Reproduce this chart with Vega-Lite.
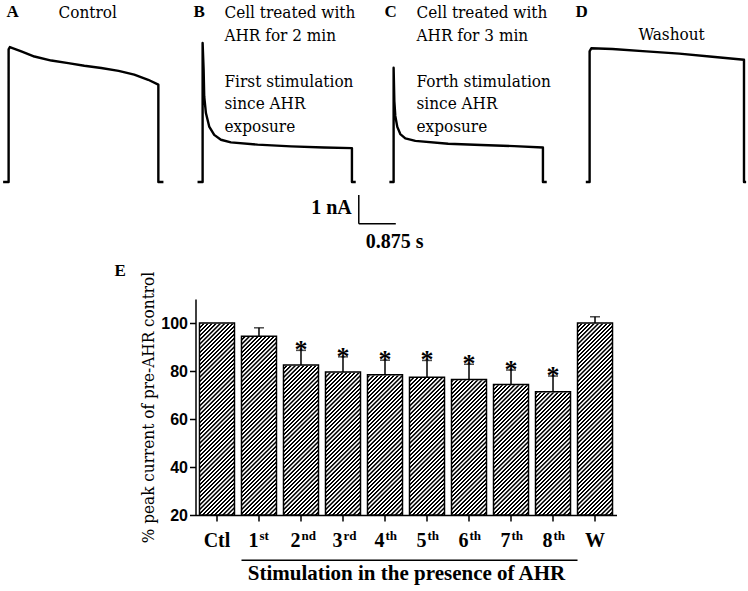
{
  "$schema": "https://vega.github.io/schema/vega-lite/v6.json",
  "background": "white",
  "padding": {"left": 1.5, "top": 2, "right": 5, "bottom": 5},
  "spacing": 10,
  "config": {"view": {"stroke": null}, "font": "Liberation Serif", "axis": {"grid": false}},
  "datasets": {
    "traces": [
      {"panel": "A", "i": 0, "t": -0.13, "I": 0},
      {"panel": "A", "i": 1, "t": 0, "I": 0},
      {"panel": "A", "i": 2, "t": 0, "I": 4.62},
      {"panel": "A", "i": 3, "t": 0.03, "I": 4.70},
      {"panel": "A", "i": 4, "t": 0.14, "I": 4.64},
      {"panel": "A", "i": 5, "t": 0.30, "I": 4.55},
      {"panel": "A", "i": 6, "t": 0.61, "I": 4.37},
      {"panel": "A", "i": 7, "t": 1.01, "I": 4.23},
      {"panel": "A", "i": 8, "t": 1.41, "I": 4.14},
      {"panel": "A", "i": 9, "t": 1.79, "I": 4.05},
      {"panel": "A", "i": 10, "t": 2.19, "I": 3.97},
      {"panel": "A", "i": 11, "t": 2.60, "I": 3.87},
      {"panel": "A", "i": 12, "t": 2.97, "I": 3.74},
      {"panel": "A", "i": 13, "t": 3.30, "I": 3.56},
      {"panel": "A", "i": 14, "t": 3.54, "I": 3.39},
      {"panel": "A", "i": 15, "t": 3.54, "I": 0},
      {"panel": "A", "i": 16, "t": 3.66, "I": 0},
      {"panel": "B", "i": 0, "t": -0.12, "I": 0},
      {"panel": "B", "i": 1, "t": 0, "I": 0},
      {"panel": "B", "i": 2, "t": 0, "I": 4.84},
      {"panel": "B", "i": 3, "t": 0.024, "I": 3.91},
      {"panel": "B", "i": 4, "t": 0.038, "I": 2.98},
      {"panel": "B", "i": 5, "t": 0.078, "I": 2.40},
      {"panel": "B", "i": 6, "t": 0.156, "I": 1.93},
      {"panel": "B", "i": 7, "t": 0.274, "I": 1.64},
      {"panel": "B", "i": 8, "t": 0.433, "I": 1.47},
      {"panel": "B", "i": 9, "t": 0.669, "I": 1.38},
      {"panel": "B", "i": 10, "t": 1.30, "I": 1.30},
      {"panel": "B", "i": 11, "t": 2.09, "I": 1.24},
      {"panel": "B", "i": 12, "t": 2.87, "I": 1.20},
      {"panel": "B", "i": 13, "t": 3.53, "I": 1.18},
      {"panel": "B", "i": 14, "t": 3.53, "I": 0},
      {"panel": "B", "i": 15, "t": 3.62, "I": 0},
      {"panel": "C", "i": 0, "t": -0.10, "I": 0},
      {"panel": "C", "i": 1, "t": 0, "I": 0},
      {"panel": "C", "i": 2, "t": 0, "I": 3.98},
      {"panel": "C", "i": 3, "t": 0.017, "I": 2.82},
      {"panel": "C", "i": 4, "t": 0.04, "I": 2.30},
      {"panel": "C", "i": 5, "t": 0.087, "I": 1.92},
      {"panel": "C", "i": 6, "t": 0.158, "I": 1.67},
      {"panel": "C", "i": 7, "t": 0.277, "I": 1.52},
      {"panel": "C", "i": 8, "t": 0.513, "I": 1.43},
      {"panel": "C", "i": 9, "t": 1.29, "I": 1.33},
      {"panel": "C", "i": 10, "t": 2.07, "I": 1.29},
      {"panel": "C", "i": 11, "t": 2.85, "I": 1.25},
      {"panel": "C", "i": 12, "t": 3.53, "I": 1.20},
      {"panel": "C", "i": 13, "t": 3.53, "I": 0},
      {"panel": "C", "i": 14, "t": 3.62, "I": 0},
      {"panel": "D", "i": 0, "t": -0.09, "I": 0},
      {"panel": "D", "i": 1, "t": 0, "I": 0},
      {"panel": "D", "i": 2, "t": 0, "I": 4.55},
      {"panel": "D", "i": 3, "t": 0.04, "I": 4.66},
      {"panel": "D", "i": 4, "t": 0.54, "I": 4.63},
      {"panel": "D", "i": 5, "t": 1.34, "I": 4.55},
      {"panel": "D", "i": 6, "t": 2.12, "I": 4.47},
      {"panel": "D", "i": 7, "t": 2.90, "I": 4.36},
      {"panel": "D", "i": 8, "t": 3.65, "I": 4.26},
      {"panel": "D", "i": 9, "t": 3.65, "I": 0},
      {"panel": "D", "i": 10, "t": 3.70, "I": 0}
    ],
    "bars": [
      {"cat": "Ctl", "num": "Ctl", "sup": "", "mean": 100, "err": null, "star": false},
      {"cat": "1st", "num": "1", "sup": "st", "mean": 94.5, "err": 98.0, "star": false},
      {"cat": "2nd", "num": "2", "sup": "nd", "mean": 82.5, "err": 88.6, "star": true},
      {"cat": "3rd", "num": "3", "sup": "rd", "mean": 79.6, "err": 85.9, "star": true},
      {"cat": "4th", "num": "4", "sup": "th", "mean": 78.4, "err": 84.5, "star": true},
      {"cat": "5th", "num": "5", "sup": "th", "mean": 77.4, "err": 84.4, "star": true},
      {"cat": "6th", "num": "6", "sup": "th", "mean": 76.5, "err": 82.8, "star": true},
      {"cat": "7th", "num": "7", "sup": "th", "mean": 74.4, "err": 80.4, "star": true},
      {"cat": "8th", "num": "8", "sup": "th", "mean": 71.4, "err": 77.9, "star": true},
      {"cat": "W", "num": "W", "sup": "", "mean": 100, "err": 102.6, "star": false}
    ]
  },
  "vconcat": [
    {
      "hconcat": [
        {
          "width": 184, "height": 240,
          "layer": [
            {"data": {"name": "traces"}, "transform": [{"filter": "datum.panel === 'A'"}],
             "mark": {"type": "line", "color": "black", "strokeWidth": 2.4, "strokeJoin": "round"},
             "encoding": {
               "x": {"field": "t", "type": "quantitative", "scale": {"domain": [-0.05, 4.3], "nice": false, "zero": false}, "axis": null},
               "y": {"field": "I", "type": "quantitative", "scale": {"domain": [-2.23, 6.13], "nice": false, "zero": false}, "axis": null},
               "order": {"field": "i", "type": "quantitative"}}},
            {"data": {"values": [{}]}, "mark": {"type": "text", "font": "Liberation Serif", "align": "left", "baseline": "alphabetic", "fontSize": 17, "fontWeight": "bold", "color": "black"},
             "encoding": {"x": {"datum": -0.05}, "y": {"datum": 5.76}, "text": {"value": "A"}}},
            {"data": {"values": [{}]}, "mark": {"type": "text", "font": "DejaVu Serif Condensed", "align": "left", "baseline": "alphabetic", "fontSize": 17, "color": "black"},
             "encoding": {"x": {"datum": 1.179}, "y": {"datum": 5.71}, "text": {"value": "Control"}}}
          ]
        },
        {
          "width": 181, "height": 240,
          "layer": [
            {"data": {"name": "traces"}, "transform": [{"filter": "datum.panel === 'B'"}],
             "mark": {"type": "line", "color": "black", "strokeWidth": 2.4, "strokeJoin": "round"},
             "encoding": {
               "x": {"field": "t", "type": "quantitative", "scale": {"domain": [-0.05, 4.229], "nice": false, "zero": false}, "axis": null},
               "y": {"field": "I", "type": "quantitative", "scale": {"domain": [-2.23, 6.13], "nice": false, "zero": false}, "axis": null},
               "order": {"field": "i", "type": "quantitative"}}},
            {"data": {"values": [{}]}, "mark": {"type": "text", "font": "Liberation Serif", "align": "left", "baseline": "alphabetic", "fontSize": 17, "fontWeight": "bold", "color": "black"},
             "encoding": {"x": {"datum": -0.215}, "y": {"datum": 5.76}, "text": {"value": "B"}}},
            {"data": {"values": [{}]}, "mark": {"type": "text", "font": "DejaVu Serif Condensed", "align": "left", "baseline": "alphabetic", "fontSize": 17, "lineHeight": 23, "color": "black"},
             "encoding": {"x": {"datum": 0.517}, "y": {"datum": 5.71}, "text": {"value": ["Cell treated with", "AHR for 2 min"]}}},
            {"data": {"values": [{}]}, "mark": {"type": "text", "font": "DejaVu Serif Condensed", "align": "left", "baseline": "alphabetic", "fontSize": 17, "lineHeight": 22.5, "color": "black"},
             "encoding": {"x": {"datum": 0.517}, "y": {"datum": 3.309}, "text": {"value": ["First stimulation", "since  AHR", "exposure"]}}},
            {"data": {"values": [{}]}, "mark": {"type": "rule", "color": "black", "strokeWidth": 1.5},
             "encoding": {"x": {"datum": 3.692}, "y": {"datum": -0.453}, "y2": {"datum": -1.452}}},
            {"data": {"values": [{}]}, "mark": {"type": "rule", "color": "black", "strokeWidth": 1.5},
             "encoding": {"x": {"datum": 3.692}, "x2": {"datum": 4.567}, "y": {"datum": -1.452}}},
            {"data": {"values": [{}]}, "mark": {"type": "text", "font": "Liberation Serif", "align": "right", "baseline": "alphabetic", "fontSize": 20, "fontWeight": "bold", "dx": -7, "color": "black"},
             "encoding": {"x": {"datum": 3.692}, "y": {"datum": -1.115}, "text": {"value": "1 nA"}}},
            {"data": {"values": [{}]}, "mark": {"type": "text", "font": "Liberation Serif", "align": "left", "baseline": "alphabetic", "fontSize": 20, "fontWeight": "bold", "dx": 7, "color": "black"},
             "encoding": {"x": {"datum": 3.692}, "y": {"datum": -2.288}, "text": {"value": "0.875 s"}}}
          ]
        },
        {
          "width": 186, "height": 240,
          "layer": [
            {"data": {"name": "traces"}, "transform": [{"filter": "datum.panel === 'C'"}],
             "mark": {"type": "line", "color": "black", "strokeWidth": 2.4, "strokeJoin": "round"},
             "encoding": {
               "x": {"field": "t", "type": "quantitative", "scale": {"domain": [-0.05, 4.347], "nice": false, "zero": false}, "axis": null},
               "y": {"field": "I", "type": "quantitative", "scale": {"domain": [-2.23, 6.13], "nice": false, "zero": false}, "axis": null},
               "order": {"field": "i", "type": "quantitative"}}},
            {"data": {"values": [{}]}, "mark": {"type": "text", "font": "Liberation Serif", "align": "left", "baseline": "alphabetic", "fontSize": 17, "fontWeight": "bold", "color": "black"},
             "encoding": {"x": {"datum": -0.215}, "y": {"datum": 5.76}, "text": {"value": "C"}}},
            {"data": {"values": [{}]}, "mark": {"type": "text", "font": "DejaVu Serif Condensed", "align": "left", "baseline": "alphabetic", "fontSize": 17, "lineHeight": 23, "color": "black"},
             "encoding": {"x": {"datum": 0.541}, "y": {"datum": 5.71}, "text": {"value": ["Cell treated with", "AHR for 3 min"]}}},
            {"data": {"values": [{}]}, "mark": {"type": "text", "font": "DejaVu Serif Condensed", "align": "left", "baseline": "alphabetic", "fontSize": 17, "lineHeight": 22.5, "color": "black"},
             "encoding": {"x": {"datum": 0.541}, "y": {"datum": 3.309}, "text": {"value": ["Forth stimulation", "since AHR", "exposure"]}}}
          ]
        },
        {
          "width": 157, "height": 240,
          "layer": [
            {"data": {"name": "traces"}, "transform": [{"filter": "datum.panel === 'D'"}],
             "mark": {"type": "line", "color": "black", "strokeWidth": 2.4, "strokeJoin": "round"},
             "encoding": {
               "x": {"field": "t", "type": "quantitative", "scale": {"domain": [-0.05, 3.662], "nice": false, "zero": false}, "axis": null},
               "y": {"field": "I", "type": "quantitative", "scale": {"domain": [-2.23, 6.13], "nice": false, "zero": false}, "axis": null},
               "order": {"field": "i", "type": "quantitative"}}},
            {"data": {"values": [{}]}, "mark": {"type": "text", "font": "Liberation Serif", "align": "left", "baseline": "alphabetic", "fontSize": 17, "fontWeight": "bold", "color": "black"},
             "encoding": {"x": {"datum": -0.334}, "y": {"datum": 5.76}, "text": {"value": "D"}}},
            {"data": {"values": [{}]}, "mark": {"type": "text", "font": "DejaVu Serif Condensed", "align": "left", "baseline": "alphabetic", "fontSize": 17, "color": "black"},
             "encoding": {"x": {"datum": 1.156}, "y": {"datum": 4.946}, "text": {"value": "Washout"}}}
          ]
        }
      ],
      "spacing": 10,
      "bounds": "flush"
    },
    {
      "hconcat": [
        {"width": 179, "height": 216, "data": {"values": []}, "mark": "point"},
        {
          "width": 421, "height": 216,
          "data": {"name": "bars"},
          "encoding": {
            "x": {"field": "cat", "type": "nominal", "sort": null,
                  "scale": {"paddingInner": 0.167, "paddingOuter": 0.095},
                  "axis": {"title": "Stimulation in the presence of AHR", "labels": false, "ticks": true, "tickSize": 6, "tickWidth": 1.5, "tickColor": "black", "domainColor": "black", "domainWidth": 1.5, "titleFont": "Liberation Serif", "titleFontSize": 21, "titleFontWeight": "bold", "titleColor": "black", "titlePadding": 41}}
          },
          "layer": [
            {"mark": {"type": "bar", "fill": {"gradient": "linear", "x1": 0, "y1": 0, "x2": 0.2086, "y2": 1.1443, "stops": [
              {"offset": 0, "color": "#000"}, {"offset": 0.00727, "color": "#000"}, {"offset": 0.00909, "color": "#fff"}, {"offset": 0.01636, "color": "#fff"},
              {"offset": 0.01818, "color": "#000"}, {"offset": 0.02545, "color": "#000"}, {"offset": 0.02727, "color": "#fff"}, {"offset": 0.03454, "color": "#fff"},
              {"offset": 0.03636, "color": "#000"}, {"offset": 0.04363, "color": "#000"}, {"offset": 0.04545, "color": "#fff"}, {"offset": 0.05272, "color": "#fff"},
              {"offset": 0.05455, "color": "#000"}, {"offset": 0.06182, "color": "#000"}, {"offset": 0.06364, "color": "#fff"}, {"offset": 0.07091, "color": "#fff"},
              {"offset": 0.07273, "color": "#000"}, {"offset": 0.08, "color": "#000"}, {"offset": 0.08182, "color": "#fff"}, {"offset": 0.08909, "color": "#fff"},
              {"offset": 0.09091, "color": "#000"}, {"offset": 0.09818, "color": "#000"}, {"offset": 0.1, "color": "#fff"}, {"offset": 0.10727, "color": "#fff"},
              {"offset": 0.10909, "color": "#000"}, {"offset": 0.11636, "color": "#000"}, {"offset": 0.11818, "color": "#fff"}, {"offset": 0.12545, "color": "#fff"},
              {"offset": 0.12727, "color": "#000"}, {"offset": 0.13454, "color": "#000"}, {"offset": 0.13636, "color": "#fff"}, {"offset": 0.14363, "color": "#fff"},
              {"offset": 0.14545, "color": "#000"}, {"offset": 0.15272, "color": "#000"}, {"offset": 0.15454, "color": "#fff"}, {"offset": 0.16181, "color": "#fff"},
              {"offset": 0.16364, "color": "#000"}, {"offset": 0.17091, "color": "#000"}, {"offset": 0.17273, "color": "#fff"}, {"offset": 0.18, "color": "#fff"},
              {"offset": 0.18182, "color": "#000"}, {"offset": 0.18909, "color": "#000"}, {"offset": 0.19091, "color": "#fff"}, {"offset": 0.19818, "color": "#fff"},
              {"offset": 0.2, "color": "#000"}, {"offset": 0.20727, "color": "#000"}, {"offset": 0.20909, "color": "#fff"}, {"offset": 0.21636, "color": "#fff"},
              {"offset": 0.21818, "color": "#000"}, {"offset": 0.22545, "color": "#000"}, {"offset": 0.22727, "color": "#fff"}, {"offset": 0.23454, "color": "#fff"},
              {"offset": 0.23636, "color": "#000"}, {"offset": 0.24363, "color": "#000"}, {"offset": 0.24545, "color": "#fff"}, {"offset": 0.25272, "color": "#fff"},
              {"offset": 0.25455, "color": "#000"}, {"offset": 0.26182, "color": "#000"}, {"offset": 0.26364, "color": "#fff"}, {"offset": 0.27091, "color": "#fff"},
              {"offset": 0.27273, "color": "#000"}, {"offset": 0.28, "color": "#000"}, {"offset": 0.28182, "color": "#fff"}, {"offset": 0.28909, "color": "#fff"},
              {"offset": 0.29091, "color": "#000"}, {"offset": 0.29818, "color": "#000"}, {"offset": 0.3, "color": "#fff"}, {"offset": 0.30727, "color": "#fff"},
              {"offset": 0.30909, "color": "#000"}, {"offset": 0.31636, "color": "#000"}, {"offset": 0.31818, "color": "#fff"}, {"offset": 0.32545, "color": "#fff"},
              {"offset": 0.32727, "color": "#000"}, {"offset": 0.33454, "color": "#000"}, {"offset": 0.33636, "color": "#fff"}, {"offset": 0.34363, "color": "#fff"},
              {"offset": 0.34545, "color": "#000"}, {"offset": 0.35272, "color": "#000"}, {"offset": 0.35454, "color": "#fff"}, {"offset": 0.36181, "color": "#fff"},
              {"offset": 0.36364, "color": "#000"}, {"offset": 0.37091, "color": "#000"}, {"offset": 0.37273, "color": "#fff"}, {"offset": 0.38, "color": "#fff"},
              {"offset": 0.38182, "color": "#000"}, {"offset": 0.38909, "color": "#000"}, {"offset": 0.39091, "color": "#fff"}, {"offset": 0.39818, "color": "#fff"},
              {"offset": 0.4, "color": "#000"}, {"offset": 0.40727, "color": "#000"}, {"offset": 0.40909, "color": "#fff"}, {"offset": 0.41636, "color": "#fff"},
              {"offset": 0.41818, "color": "#000"}, {"offset": 0.42545, "color": "#000"}, {"offset": 0.42727, "color": "#fff"}, {"offset": 0.43454, "color": "#fff"},
              {"offset": 0.43636, "color": "#000"}, {"offset": 0.44363, "color": "#000"}, {"offset": 0.44545, "color": "#fff"}, {"offset": 0.45272, "color": "#fff"},
              {"offset": 0.45455, "color": "#000"}, {"offset": 0.46182, "color": "#000"}, {"offset": 0.46364, "color": "#fff"}, {"offset": 0.47091, "color": "#fff"},
              {"offset": 0.47273, "color": "#000"}, {"offset": 0.48, "color": "#000"}, {"offset": 0.48182, "color": "#fff"}, {"offset": 0.48909, "color": "#fff"},
              {"offset": 0.49091, "color": "#000"}, {"offset": 0.49818, "color": "#000"}, {"offset": 0.5, "color": "#fff"}, {"offset": 0.50727, "color": "#fff"},
              {"offset": 0.50909, "color": "#000"}, {"offset": 0.51636, "color": "#000"}, {"offset": 0.51818, "color": "#fff"}, {"offset": 0.52545, "color": "#fff"},
              {"offset": 0.52727, "color": "#000"}, {"offset": 0.53454, "color": "#000"}, {"offset": 0.53636, "color": "#fff"}, {"offset": 0.54363, "color": "#fff"},
              {"offset": 0.54545, "color": "#000"}, {"offset": 0.55272, "color": "#000"}, {"offset": 0.55454, "color": "#fff"}, {"offset": 0.56181, "color": "#fff"},
              {"offset": 0.56364, "color": "#000"}, {"offset": 0.57091, "color": "#000"}, {"offset": 0.57273, "color": "#fff"}, {"offset": 0.58, "color": "#fff"},
              {"offset": 0.58182, "color": "#000"}, {"offset": 0.58909, "color": "#000"}, {"offset": 0.59091, "color": "#fff"}, {"offset": 0.59818, "color": "#fff"},
              {"offset": 0.6, "color": "#000"}, {"offset": 0.60727, "color": "#000"}, {"offset": 0.60909, "color": "#fff"}, {"offset": 0.61636, "color": "#fff"},
              {"offset": 0.61818, "color": "#000"}, {"offset": 0.62545, "color": "#000"}, {"offset": 0.62727, "color": "#fff"}, {"offset": 0.63454, "color": "#fff"},
              {"offset": 0.63636, "color": "#000"}, {"offset": 0.64363, "color": "#000"}, {"offset": 0.64545, "color": "#fff"}, {"offset": 0.65272, "color": "#fff"},
              {"offset": 0.65455, "color": "#000"}, {"offset": 0.66182, "color": "#000"}, {"offset": 0.66364, "color": "#fff"}, {"offset": 0.67091, "color": "#fff"},
              {"offset": 0.67273, "color": "#000"}, {"offset": 0.68, "color": "#000"}, {"offset": 0.68182, "color": "#fff"}, {"offset": 0.68909, "color": "#fff"},
              {"offset": 0.69091, "color": "#000"}, {"offset": 0.69818, "color": "#000"}, {"offset": 0.7, "color": "#fff"}, {"offset": 0.70727, "color": "#fff"},
              {"offset": 0.70909, "color": "#000"}, {"offset": 0.71636, "color": "#000"}, {"offset": 0.71818, "color": "#fff"}, {"offset": 0.72545, "color": "#fff"},
              {"offset": 0.72727, "color": "#000"}, {"offset": 0.73454, "color": "#000"}, {"offset": 0.73636, "color": "#fff"}, {"offset": 0.74363, "color": "#fff"},
              {"offset": 0.74545, "color": "#000"}, {"offset": 0.75272, "color": "#000"}, {"offset": 0.75454, "color": "#fff"}, {"offset": 0.76181, "color": "#fff"},
              {"offset": 0.76364, "color": "#000"}, {"offset": 0.77091, "color": "#000"}, {"offset": 0.77273, "color": "#fff"}, {"offset": 0.78, "color": "#fff"},
              {"offset": 0.78182, "color": "#000"}, {"offset": 0.78909, "color": "#000"}, {"offset": 0.79091, "color": "#fff"}, {"offset": 0.79818, "color": "#fff"},
              {"offset": 0.8, "color": "#000"}, {"offset": 0.80727, "color": "#000"}, {"offset": 0.80909, "color": "#fff"}, {"offset": 0.81636, "color": "#fff"},
              {"offset": 0.81818, "color": "#000"}, {"offset": 0.82545, "color": "#000"}, {"offset": 0.82727, "color": "#fff"}, {"offset": 0.83454, "color": "#fff"},
              {"offset": 0.83636, "color": "#000"}, {"offset": 0.84363, "color": "#000"}, {"offset": 0.84545, "color": "#fff"}, {"offset": 0.85272, "color": "#fff"},
              {"offset": 0.85455, "color": "#000"}, {"offset": 0.86182, "color": "#000"}, {"offset": 0.86364, "color": "#fff"}, {"offset": 0.87091, "color": "#fff"},
              {"offset": 0.87273, "color": "#000"}, {"offset": 0.88, "color": "#000"}, {"offset": 0.88182, "color": "#fff"}, {"offset": 0.88909, "color": "#fff"},
              {"offset": 0.89091, "color": "#000"}, {"offset": 0.89818, "color": "#000"}, {"offset": 0.9, "color": "#fff"}, {"offset": 0.90727, "color": "#fff"},
              {"offset": 0.90909, "color": "#000"}, {"offset": 0.91636, "color": "#000"}, {"offset": 0.91818, "color": "#fff"}, {"offset": 0.92545, "color": "#fff"},
              {"offset": 0.92727, "color": "#000"}, {"offset": 0.93454, "color": "#000"}, {"offset": 0.93636, "color": "#fff"}, {"offset": 0.94363, "color": "#fff"},
              {"offset": 0.94545, "color": "#000"}, {"offset": 0.95272, "color": "#000"}, {"offset": 0.95454, "color": "#fff"}, {"offset": 0.96181, "color": "#fff"},
              {"offset": 0.96364, "color": "#000"}, {"offset": 0.97091, "color": "#000"}, {"offset": 0.97273, "color": "#fff"}, {"offset": 0.98, "color": "#fff"},
              {"offset": 0.98182, "color": "#000"}, {"offset": 0.98909, "color": "#000"}, {"offset": 0.99091, "color": "#fff"}, {"offset": 1, "color": "#fff"}
             ]}},
             "encoding": {
               "y": {"datum": 20, "type": "quantitative", "scale": {"domain": [20, 110], "nice": false, "zero": false},
                     "axis": {"title": "% peak current of pre-AHR control", "values": [20, 30, 40, 50, 60, 70, 80, 90, 100, 110],
                              "labelExpr": "datum.value % 20 === 0 ? datum.label : ''",
                              "labelFont": "Liberation Sans", "labelFontWeight": "bold", "labelFontSize": 16, "labelColor": "black", "labelPadding": 2,
                              "tickSize": {"condition": {"test": "datum.value % 20 === 0", "value": 6}, "value": 3},
                              "tickWidth": 1.5, "tickColor": "black", "domainColor": "black", "domainWidth": 1.5,
                              "titleFont": "DejaVu Serif Condensed", "titleFontWeight": "normal", "titleFontSize": 17, "titleColor": "black", "titlePadding": 3}},
               "y2": {"datum": 100}}},
            {"mark": {"type": "bar", "fill": "white", "stroke": "white", "strokeWidth": 1.5},
             "encoding": {"y": {"field": "mean", "type": "quantitative"}, "y2": {"datum": 100}}},
            {"mark": {"type": "bar", "fill": "transparent", "stroke": "black", "strokeWidth": 1.5},
             "encoding": {"y": {"field": "mean", "type": "quantitative"}, "y2": {"datum": 20}}},
            {"transform": [{"filter": "datum.err != null"}],
             "mark": {"type": "rule", "color": "black", "strokeWidth": 1.5},
             "encoding": {"y": {"field": "mean", "type": "quantitative"}, "y2": {"field": "err"}}},
            {"transform": [{"filter": "datum.err != null"}],
             "mark": {"type": "tick", "orient": "horizontal", "size": 10, "thickness": 1.5, "color": "black"},
             "encoding": {"y": {"field": "err", "type": "quantitative"}}},
            {"transform": [{"filter": "datum.star"}],
             "mark": {"type": "text", "font": "Liberation Serif", "fontSize": 26, "fontWeight": "bold", "baseline": "alphabetic", "dy": 8, "color": "black"},
             "encoding": {"y": {"field": "err", "type": "quantitative"}, "text": {"value": "*"}}},
            {"transform": [{"filter": "datum.sup === ''"}],
             "mark": {"type": "text", "font": "Liberation Serif", "fontSize": 20, "fontWeight": "bold", "align": "center", "baseline": "alphabetic", "dy": 32, "color": "black"},
             "encoding": {"y": {"datum": 20}, "text": {"field": "num"}}},
            {"transform": [{"filter": "datum.sup !== ''"}],
             "mark": {"type": "text", "font": "Liberation Serif", "fontSize": 20, "fontWeight": "bold", "align": "right", "baseline": "alphabetic", "dy": 32, "dx": -0.5, "color": "black"},
             "encoding": {"y": {"datum": 20}, "text": {"field": "num"}}},
            {"transform": [{"filter": "datum.sup !== ''"}],
             "mark": {"type": "text", "font": "Liberation Serif", "fontSize": 13, "fontWeight": "bold", "align": "left", "baseline": "alphabetic", "dy": 25, "dx": 0.5, "color": "black"},
             "encoding": {"y": {"datum": 20}, "text": {"field": "sup"}}},
            {"data": {"values": [{}]},
             "mark": {"type": "rule", "color": "black", "strokeWidth": 1.5},
             "encoding": {"x": {"datum": "1st", "bandPosition": 0}, "x2": {"datum": "W", "bandPosition": 0}, "y": {"datum": 1.125}}},
            {"data": {"values": [{}]},
             "mark": {"type": "text", "font": "Liberation Serif", "fontSize": 17, "fontWeight": "bold", "align": "left", "baseline": "alphabetic", "dx": -85, "dy": -23, "color": "black"},
             "encoding": {"x": {"datum": "Ctl", "bandPosition": 0}, "y": {"datum": 110}, "text": {"value": "E"}}}
          ]
        }
      ],
      "spacing": 10,
      "bounds": "flush"
    }
  ]
}
